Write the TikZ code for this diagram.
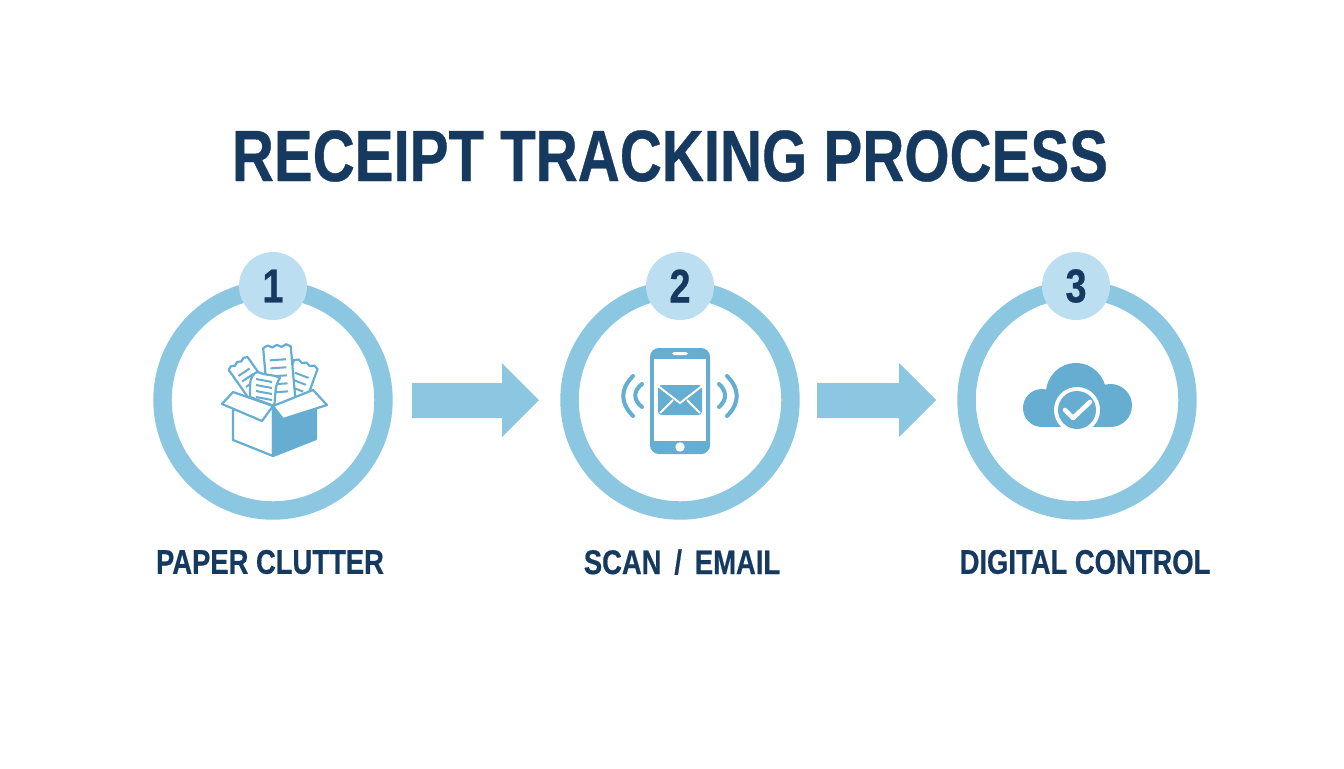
\documentclass[tikz,border=0pt]{standalone}
\usepackage{fontspec}
\setmainfont[FakeStretch=0.8, BoldFeatures={FakeStretch=0.8, FakeBold=0.5}]{Liberation Sans}
\definecolor{ringblue}{HTML}{8CC7E2}
\definecolor{badgeblue}{HTML}{BBDFF0}
\definecolor{iconblue}{HTML}{66ADD2}
\definecolor{navy}{HTML}{16395F}
\tikzset{
    ring/.style={circle, draw=ringblue, line width=10.5pt, fill=white, minimum size=221*0.02cm, inner sep=0pt},
    badge/.style={circle, fill=badgeblue, minimum size=68*0.02cm, inner sep=0pt, text=navy, font=\bfseries\fontsize{27}{27}\selectfont},
    caption/.style={text=navy, font=\bfseries\fontsize{19.5}{20}\selectfont},
    stepline/.style={draw=iconblue, line width=1.25pt, line join=round, line cap=round},
    paper/.style={stepline, fill=white},
    paperline/.style={draw=iconblue, line width=1.15pt},
    wave/.style={draw=iconblue, line width=2.3pt, line cap=round}
}
\newcommand{\receipt}[3]{%
    \begin{scope}[shift={(#1)}, rotate=#2, scale=#3]
        \draw[paper] (-12, -26) -- (-8, -28) -- (-4, -26) -- (0, -28) -- (4, -26) -- (8, -28) -- (12, -26) -- (13, 26) -- (-11, 26) -- cycle;
        \foreach \y in {-15, -8, -1, 6, 13}
            \draw[paperline] (-7, \y) -- (7, \y);
    \end{scope}}
\begin{document}
\begin{tikzpicture}[x=0.02cm, y=-0.02cm]
    \fill[white] (0, 0) rectangle (1344, 768);
    \useasboundingbox (0, 0) rectangle (1344, 768);
    \node[text=navy, font=\bfseries\fontsize{41.4}{41.4}\selectfont] (title) at (670, 156) {RECEIPT TRACKING PROCESS};
    % rings
    \node[ring] (ringa) at (273, 400) {};
    \node[ring] (ringb) at (680, 400) {};
    \node[ring] (ringc) at (1077, 400) {};
    \node[badge] (badgea) at (273, 286) {1};
    \node[badge] (badgeb) at (680, 286) {2};
    \node[badge] (badgec) at (1076, 286) {3};
    % arrows
    \fill[ringblue] (412, 383) -- (502, 383) -- (502, 363) -- (539, 400) -- (502, 437) -- (502, 418) -- (412, 418) -- cycle;
    \fill[ringblue] (817, 383) -- (899, 383) -- (899, 363) -- (936, 400) -- (899, 437) -- (899, 418) -- (817, 418) -- cycle;
    % captions
    \node[caption] (labela) at (270, 562) {PAPER CLUTTER};
    \node[caption] (labelb) at (682, 562) {SCAN\hspace{3pt} / \hspace{3pt}EMAIL};
    \node[caption] (labelc) at (1085, 562) {DIGITAL CONTROL};
    % box icon
    \fill[iconblue] (233, 392) -- (273, 406) -- (313, 390) -- (313, 410) -- (233, 410) -- cycle;
    \receipt{252, 384}{34}{0.95}
    \receipt{296, 390}{-21}{1.05}
    \receipt{279, 377}{4}{1.15}
    \draw[paper] (250, 385) .. controls (250, 378) and (254, 372) .. (258, 372) .. controls (266, 376) and (274, 374) .. (280, 378) .. controls (274, 386) and (276, 396) .. (274, 406) -- (250, 397) -- cycle;
    \foreach \i in {0, 1, 2, 3}
        \draw[paperline] (256, 379 + 6*\i) -- (272, 382 + 6*\i);
    \draw[paper] (233, 410) -- (233, 440) -- (273, 456) -- (273, 406) -- cycle;
    \draw[stepline, fill=iconblue] (273, 406) -- (316, 400) -- (316, 439) -- (273, 456) -- cycle;
    \draw[paper] (233, 392) -- (222, 404) -- (262, 421) -- (273, 406) -- cycle;
    \draw[paper] (313, 390) -- (327, 405) -- (283, 419) -- (273, 406) -- cycle;
    % phone icon
    \fill[iconblue, rounded corners=5pt] (650, 348) rectangle (710, 454);
    \fill[white] (654, 359) rectangle (706, 441);
    \fill[white, rounded corners=1pt] (672, 352) rectangle (688, 355);
    \fill[white] (680, 447) circle (4.7);
    \fill[iconblue, rounded corners=2pt] (658, 385) rectangle (702, 415);
    \draw[white, line width=1.1pt, line join=round] (658, 386) -- (680, 403) -- (702, 386);
    \draw[white, line width=1.1pt] (660, 413) -- (673, 400);
    \draw[white, line width=1.1pt] (700, 413) -- (687, 400);
    \draw[wave] (633, 376) .. controls (620, 389) and (620, 403) .. (633, 416);
    \draw[wave] (642, 384) .. controls (633, 391) and (633, 400) .. (642, 407);
    \draw[wave] (719, 384) .. controls (727, 391) and (727, 400) .. (719, 407);
    \draw[wave] (727, 376) .. controls (740, 389) and (740, 403) .. (727, 416);
    % cloud icon
    \fill[iconblue] (1042, 408) circle (19);
    \fill[iconblue] (1110.5, 405.5) circle (21.5);
    \fill[iconblue] (1076, 393) circle (30);
    \fill[iconblue] (1042, 407) rectangle (1110, 427);
    \fill[white] (1077, 410) circle (23);
    \fill[iconblue] (1077, 410) circle (19);
    \draw[white, line width=2.6pt, line cap=round, line join=round] (1065, 410) -- (1073, 418) -- (1090, 402);
\end{tikzpicture}
\end{document}
